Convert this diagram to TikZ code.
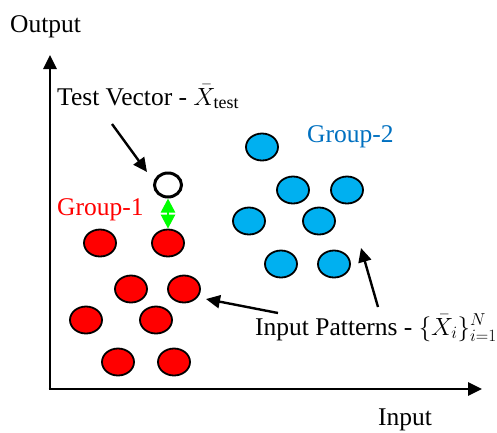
\documentclass[tikz,border=0pt]{standalone}
\usepackage{fontspec}
\setmainfont{Liberation Serif}
\usetikzlibrary{arrows.meta,shapes.geometric}

\definecolor{grpred}{RGB}{255,0,0}
\definecolor{grpblue}{RGB}{0,176,240}
\definecolor{grptext}{RGB}{0,112,192}
\definecolor{gapgreen}{RGB}{0,255,0}

\tikzset{
  pattern/.style={ellipse,draw=black,line width=1.8pt,minimum width=32pt,minimum height=27pt,inner sep=0pt},
  redpt/.style={pattern,fill=grpred},
  bluept/.style={pattern,fill=grpblue},
  testpt/.style={ellipse,draw=black,line width=3pt,minimum width=27pt,minimum height=24pt,inner sep=0pt},
  axis/.style={line width=2.6pt,-{Triangle[length=14pt,width=13pt]}},
  pointer/.style={line width=2.4pt,-{Triangle[length=14pt,width=13pt]}},
  gap/.style={gapgreen,line width=2.6pt,{Triangle[length=14pt,width=14pt]}-{Triangle[length=14pt,width=14pt]}},
  label/.style={anchor=base west,inner sep=0pt,font=\fontsize{25.5}{30}\selectfont}
}

\begin{document}
\begin{tikzpicture}[x=1pt,y=-1pt]
\useasboundingbox (0,0) rectangle (497,432);
% axes
\coordinate (origin) at (50,389);
\coordinate (ytip) at (50,55);
\coordinate (xtip) at (482,389);
\draw[axis] ([xshift=-1.3pt]origin) -- (xtip);
\draw[axis] ([yshift=1.3pt]origin) -- (ytip);
\node[label] (ylabel) at (10,32) {Output};
\node[label] (xlabel) at (378,425) {Input};

% group 1
\node[redpt] (r1) at (100,243) {};
\node[redpt] (r2) at (168,243) {};
\node[redpt] (r3) at (131,289) {};
\node[redpt] (r4) at (184,289) {};
\node[redpt] (r5) at (86,320) {};
\node[redpt] (r6) at (156,320) {};
\node[redpt] (r7) at (118,362) {};
\node[redpt] (r8) at (174,362) {};
\node[label,text=grpred] (g1) at (57,215) {Group-1};

% group 2
\node[bluept] (b1) at (262,147) {};
\node[bluept] (b2) at (293,190) {};
\node[bluept] (b3) at (347,190) {};
\node[bluept] (b4) at (249,221) {};
\node[bluept] (b5) at (319,221) {};
\node[bluept] (b6) at (281,264) {};
\node[bluept] (b7) at (334,264) {};
\node[label,text=grptext] (g2) at (307,142) {Group-2};

% test vector
\node[testpt] (t) at (168,185) {};
\node[label] (tv) at (57,105) {Test Vector - $\bar{X}_{\mathrm{test}}$};
\coordinate (tvfoot) at (112,124);
\coordinate (tvtip) at (147,172);
\draw[pointer] (tvfoot) -- (tvtip);
\draw[gap] (t.south) -- (r2.north);

% input patterns
\node[label] (ip) at (255,335) {Input Patterns - $\{\bar{X}_i\}_{i=1}^{N}$};
\coordinate (ipleft) at (278,313);
\coordinate (ipredtip) at (206,299);
\coordinate (ipright) at (378,307);
\coordinate (ipbluetip) at (361,248);
\draw[pointer] (ipleft) -- (ipredtip);
\draw[pointer] (ipright) -- (ipbluetip);
\end{tikzpicture}
\end{document}
